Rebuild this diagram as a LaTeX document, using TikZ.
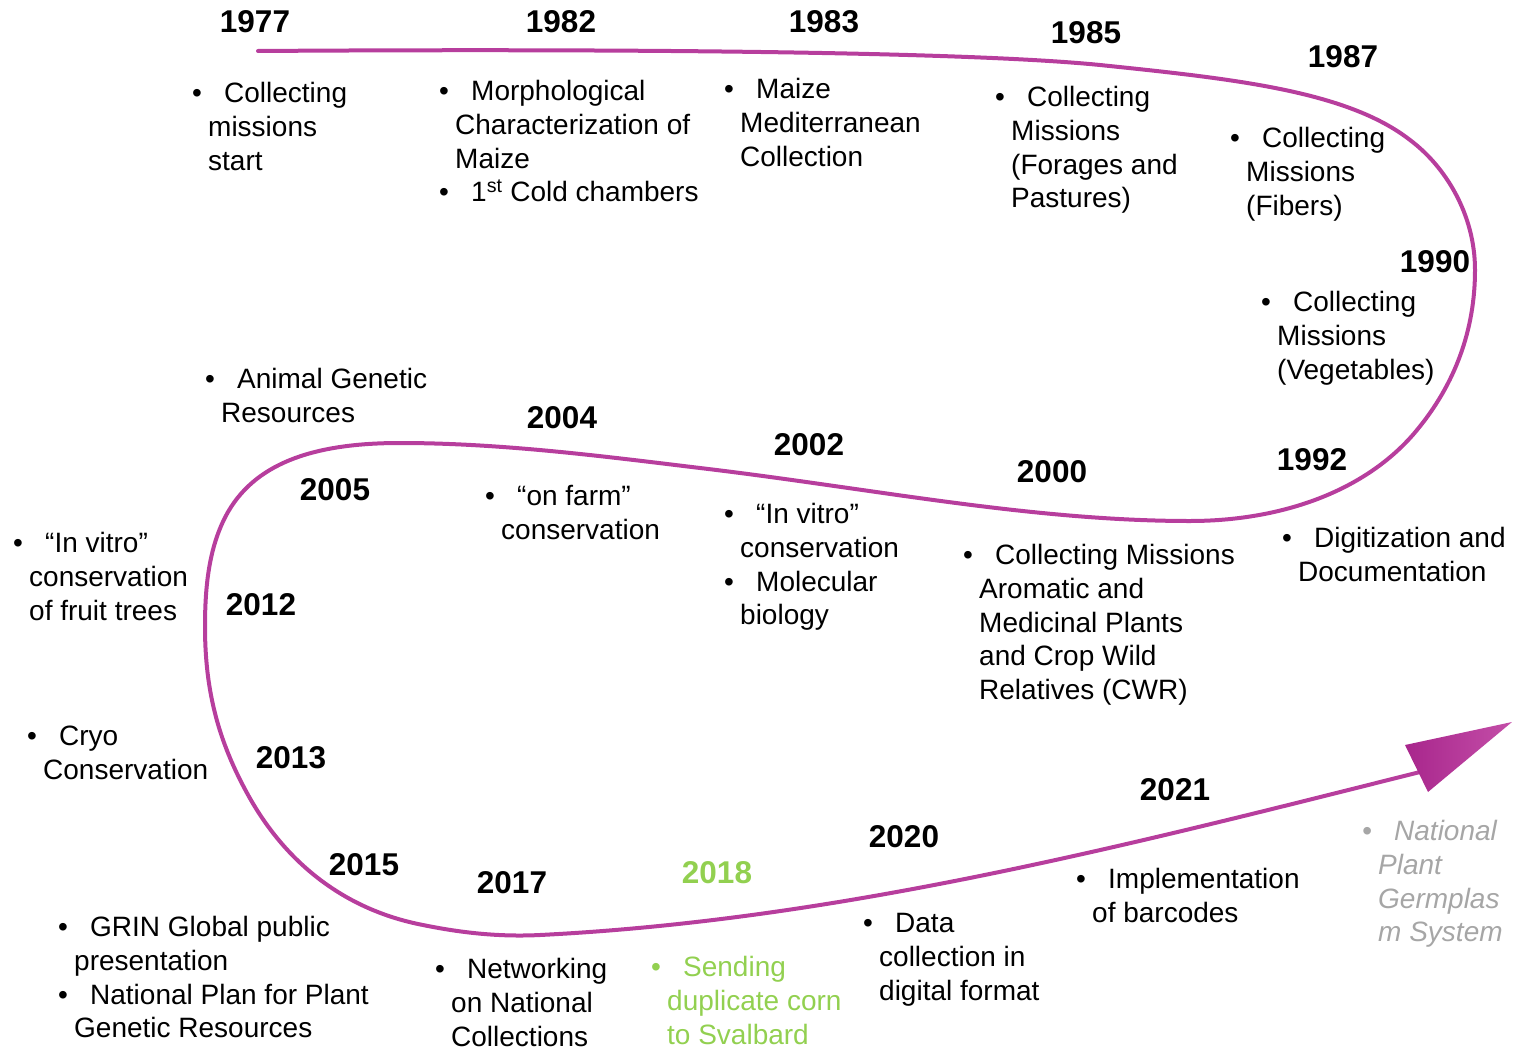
\documentclass[tikz,border=0pt]{standalone}
\usepackage{fontspec}
\setmainfont{Liberation Sans}
\usepackage{tikz}

\definecolor{loopline}{RGB}{183,62,157}
\definecolor{arrowdark}{RGB}{168,38,140}
\definecolor{arrowlight}{RGB}{196,78,168}
\definecolor{leafgreen}{RGB}{146,208,80}
\definecolor{softgray}{RGB}{166,166,166}

\newcommand{\bitem}{\makebox[32pt][l]{\textbullet}}
\newcommand{\bcont}{\hspace*{16pt}}

\begin{document}
\begin{tikzpicture}
    [x=1pt, y=-1pt,
      yr/.style={font=\fontsize{31.5}{36}\selectfont\bfseries, inner sep=0},
      note/.style={font=\fontsize{28}{33.8}\selectfont, align=left, anchor=north west, inner sep=0}]
    \useasboundingbox (0,0) rectangle (1513,1052);

    % the timeline
    \draw[loopline, line width=4pt, line cap=round]
      (258,51) .. controls (550,49) and (950,50) .. (1100,65)
      .. controls (1235,79) and (1347,91) .. (1410,140)
      .. controls (1446,167) and (1475,215) .. (1475,270)
      .. controls (1475,330) and (1455,384) .. (1417,430)
      .. controls (1366,492) and (1280,521) .. (1190,521)
      .. controls (1030,521) and (869,488) .. (700,468)
      .. controls (601,456) and (500,443) .. (400,443)
      .. controls (320,443) and (258,460) .. (228,512)
      .. controls (208,547) and (205,590) .. (205,627)
      .. controls (205,690) and (218,740) .. (247,793)
      .. controls (285,863) and (345,910) .. (423,925)
      .. controls (462,933) and (500,937) .. (540,935)
      .. controls (840,920) and (1129,845) .. (1420,772);
    \shade[left color=arrowdark, right color=arrowlight]
      (1405,745) -- (1512,722) -- (1428,792) -- cycle;

    % years
    \node[yr] (y1977) at (255,22) {1977};
    \node[yr] (y1982) at (561,22) {1982};
    \node[yr] (y1983) at (824,22) {1983};
    \node[yr] (y1985) at (1086,33) {1985};
    \node[yr] (y1987) at (1343,57) {1987};
    \node[yr] (y1990) at (1435,262) {1990};
    \node[yr] (y1992) at (1312,460) {1992};
    \node[yr] (y2000) at (1052,472) {2000};
    \node[yr] (y2002) at (809,445) {2002};
    \node[yr] (y2004) at (562,418) {2004};
    \node[yr] (y2005) at (335,490) {2005};
    \node[yr] (y2012) at (261,605) {2012};
    \node[yr] (y2013) at (291,758) {2013};
    \node[yr] (y2015) at (364,865) {2015};
    \node[yr] (y2017) at (512,883) {2017};
    \node[yr, leafgreen] (y2018) at (717,873) {2018};
    \node[yr] (y2020) at (904,837) {2020};
    \node[yr] (y2021) at (1175,790) {2021};

    % events
    \node[note] (n1977) at (192,82) {\bitem Collecting\\\bcont missions\\\bcont start};
    \node[note] (n1982) at (439,80) {\bitem Morphological\\\bcont Characterization of\\\bcont Maize\\
      \bitem 1\textsuperscript{st} Cold chambers};
    \node[note] (n1983) at (724,78) {\bitem Maize\\\bcont Mediterranean\\\bcont Collection};
    \node[note] (n1985) at (995,86) {\bitem Collecting\\\bcont Missions\\\bcont (Forages and\\\bcont Pastures)};
    \node[note] (n1987) at (1230,127) {\bitem Collecting\\\bcont Missions\\\bcont (Fibers)};
    \node[note] (n1990) at (1261,291) {\bitem Collecting\\\bcont Missions\\\bcont (Vegetables)};
    \node[note] (n1992) at (1282,527) {\bitem Digitization and\\\bcont Documentation};
    \node[note] (n2000) at (963,544) {\bitem Collecting Missions\\\bcont Aromatic and\\\bcont Medicinal Plants\\
      \bcont and Crop Wild\\\bcont Relatives (CWR)};
    \node[note] (n2002) at (724,503) {\bitem “In vitro”\\\bcont conservation\\\bitem Molecular\\\bcont biology};
    \node[note] (n2004) at (485,485) {\bitem “on farm”\\\bcont conservation};
    \node[note] (n2005) at (205,368) {\bitem Animal Genetic\\\bcont Resources};
    \node[note] (n2012) at (13,532) {\bitem “In vitro”\\\bcont conservation\\\bcont of fruit trees};
    \node[note] (n2013) at (27,726) {\bitem Cryo\\\bcont Conservation};
    \node[note] (n2015) at (58,916) {\bitem GRIN Global public\\\bcont presentation\\
      \bitem National Plan for Plant\\\bcont Genetic Resources};
    \node[note] (n2017) at (435,958) {\bitem Networking\\\bcont on National\\\bcont Collections};
    \node[note, leafgreen] (n2018) at (651,956) {\bitem Sending\\\bcont duplicate corn\\\bcont to Svalbard};
    \node[note] (n2020) at (863,913) {\bitem Data\\\bcont collection in\\\bcont digital format};
    \node[note] (n2021) at (1076,868) {\bitem Implementation\\\bcont of barcodes};
    \node[note, softgray, font=\fontsize{28}{33.8}\selectfont\itshape] (nplan) at (1362,820)
      {\bitem National\\\bcont Plant\\\bcont Germplas\\\bcont m System};
\end{tikzpicture}
\end{document}
